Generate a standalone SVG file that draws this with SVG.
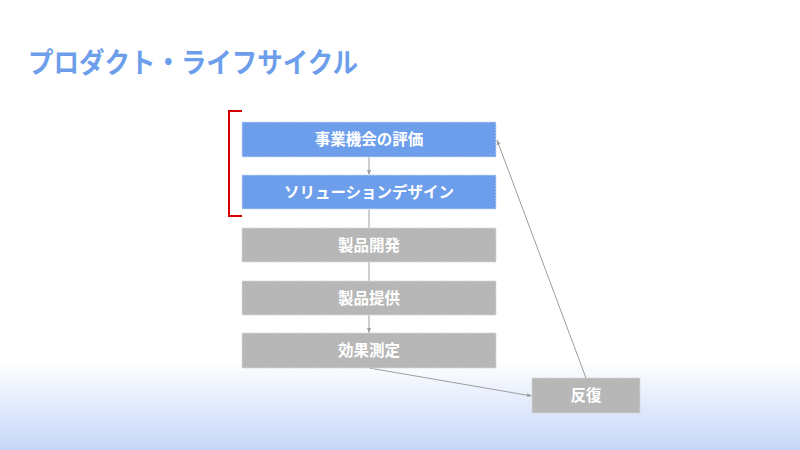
<svg xmlns="http://www.w3.org/2000/svg" width="800" height="450" viewBox="0 0 800 450">
<defs>
<linearGradient id="bg" x1="0" y1="0" x2="0" y2="1">
<stop offset="0" stop-color="#ffffff"/>
<stop offset="0.8" stop-color="#ffffff"/>
<stop offset="1" stop-color="#c5d6f8"/>
</linearGradient>
<marker id="arr" viewBox="0 0 10 10" refX="10" refY="5" markerWidth="5" markerHeight="5" orient="auto-start-reverse">
<path d="M0,1 L10,5 L0,9 z" fill="#9e9e9e"/>
</marker>
<style>
.lbl{font-family:"Liberation Sans","Noto Sans CJK JP",sans-serif;font-size:15.5px;font-weight:bold;fill:#ffffff;text-anchor:middle;dominant-baseline:central}
.blue{fill:#6d9eeb;stroke:#c9daf8;stroke-width:1;stroke-dasharray:2 1}
.gray{fill:#b7b7b7;stroke:#d6d6d6;stroke-width:1;stroke-dasharray:2 1}
.con{stroke:#9e9e9e;stroke-width:1;fill:none}
</style>
</defs>
<rect x="0" y="0" width="800" height="450" fill="url(#bg)"/>
<text x="28" y="73" font-family="'Liberation Sans','Noto Sans CJK JP',sans-serif" font-size="28" font-weight="bold" fill="#6d9eeb" textLength="330" lengthAdjust="spacingAndGlyphs">プロダクト・ライフサイクル</text>
<path d="M242,111 H229 V216 H242" fill="none" stroke="#d40000" stroke-width="2"/>
<g id="connectors">
<line class="con" x1="369" y1="157" x2="369" y2="175" marker-end="url(#arr)"/>
<line class="con" x1="369" y1="209" x2="369" y2="228"/>
<line class="con" x1="369" y1="262" x2="369" y2="281"/>
<line class="con" x1="369" y1="315" x2="369" y2="333" marker-end="url(#arr)"/>
<line class="con" x1="369" y1="368" x2="532" y2="396" marker-end="url(#arr)"/>
<line class="con" x1="586" y1="378" x2="497" y2="140" marker-end="url(#arr)"/>
</g>
<g id="n1"><rect class="blue" x="242" y="122" width="254" height="35"/><text class="lbl" x="369" y="139.5">事業機会の評価</text></g>
<g id="n2"><rect class="blue" x="242" y="175" width="254" height="34"/><text class="lbl" x="369" y="192">ソリューションデザイン</text></g>
<g id="n3"><rect class="gray" x="242" y="228" width="254" height="34"/><text class="lbl" x="369" y="245">製品開発</text></g>
<g id="n4"><rect class="gray" x="242" y="281" width="254" height="34"/><text class="lbl" x="369" y="298">製品提供</text></g>
<g id="n5"><rect class="gray" x="242" y="333" width="254" height="35"/><text class="lbl" x="369" y="350.5">効果測定</text></g>
<g id="n6"><rect class="gray" x="532" y="378" width="108" height="35"/><text class="lbl" x="586" y="395.5">反復</text></g>
</svg>
